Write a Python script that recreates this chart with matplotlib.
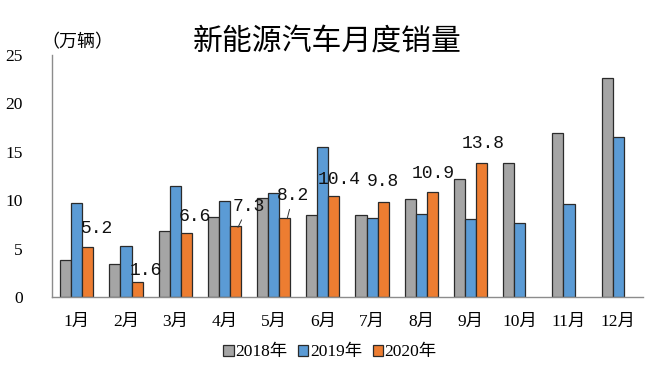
import matplotlib
matplotlib.use("Agg")
import matplotlib.pyplot as plt
import numpy as np

cjk = ['Liberation Serif', 'Noto Sans CJK SC']
plt.rcParams['font.family'] = cjk

months = [f"{i}月" for i in range(1, 13)]
sales_2018 = [3.8, 3.4, 6.8, 8.3, 10.2, 8.5, 8.5, 10.1, 12.2, 13.8, 16.9, 22.6]
sales_2019 = [9.7, 5.3, 11.5, 9.9, 10.7, 15.5, 8.2, 8.6, 8.1, 7.7, 9.6, 16.5]
sales_2020 = [5.2, 1.6, 6.6, 7.3, 8.2, 10.4, 9.8, 10.9, 13.8]
series_names = ["2018年", "2019年", "2020年"]

# label placement relative to the 2020 bar top (dx, dy), and which get a leader line
label_offsets = [(0.19, 1.9), (0.17, 1.2), (0.18, 1.7), (0.26, 2.1), (0.17, 2.3),
                 (0.11, 1.7), (0.0, 2.1), (0.02, 1.9), (0.03, 2.1)]
leader = [False, False, False, True, True, False, False, False, False]

colors = ["#A5A5A5", "#5B9BD5", "#ED7D31"]

fig = plt.figure(figsize=(6.6, 3.71), dpi=100)
ax = fig.add_axes([0.079, 0.199, 0.895, 0.653])

x = np.arange(len(months))
w = 0.225
v2020 = sales_2020 + [np.nan] * (len(months) - len(sales_2020))
for k, (vals, c, name) in enumerate(zip([sales_2018, sales_2019, v2020], colors, series_names)):
    ax.bar(x + (k - 1) * w, vals, width=w, color=c, edgecolor="#2b2b2b",
           linewidth=0.9, label=name)

for i, v in enumerate(sales_2020):
    bx = x[i] + w
    dx, dy = label_offsets[i]
    if leader[i]:
        ax.annotate(f"{v}", xy=(bx + 0.05, v - 0.1), xytext=(bx + dx, v + dy),
                    ha="center", va="center", fontsize=13, family="Liberation Mono",
                    color="#111111",
                    arrowprops=dict(arrowstyle="-", color="#333333", lw=0.7,
                                    shrinkA=2, shrinkB=0))
    else:
        ax.text(bx + dx, v + dy, f"{v}", ha="center", va="center", fontsize=13,
                family="Liberation Mono", color="#111111")

ax.set_xlim(-0.5, 11.5)
ax.set_ylim(0, 25)
ax.set_yticks(np.arange(0, 26, 5))
ax.set_xticks(x)
ax.set_xticklabels(months)
ax.tick_params(axis="both", length=0, labelsize=12.5)
ax.tick_params(axis="y", pad=21)
ax.tick_params(axis="x", pad=12)
for s in ["top", "right"]:
    ax.spines[s].set_visible(False)
for s in ["left", "bottom"]:
    ax.spines[s].set_color("#8c8c8c")
    ax.spines[s].set_linewidth(1.0)

fig.text(0.496, 0.89, "新能源汽车月度销量", ha="center", va="center",
         fontsize=21.5, family="Noto Sans CJK SC")
fig.text(0.063, 0.887, "（万辆）", ha="left", va="center", fontsize=13,
         family="Noto Sans CJK SC")

fig.legend(loc="center", bbox_to_anchor=(0.5, 0.05), ncol=3, frameon=False,
           fontsize=12.5, handlelength=0.6, handleheight=0.6, handletextpad=0.1,
           columnspacing=0.6)

plt.savefig("out.png", dpi=100)
plt.close()
